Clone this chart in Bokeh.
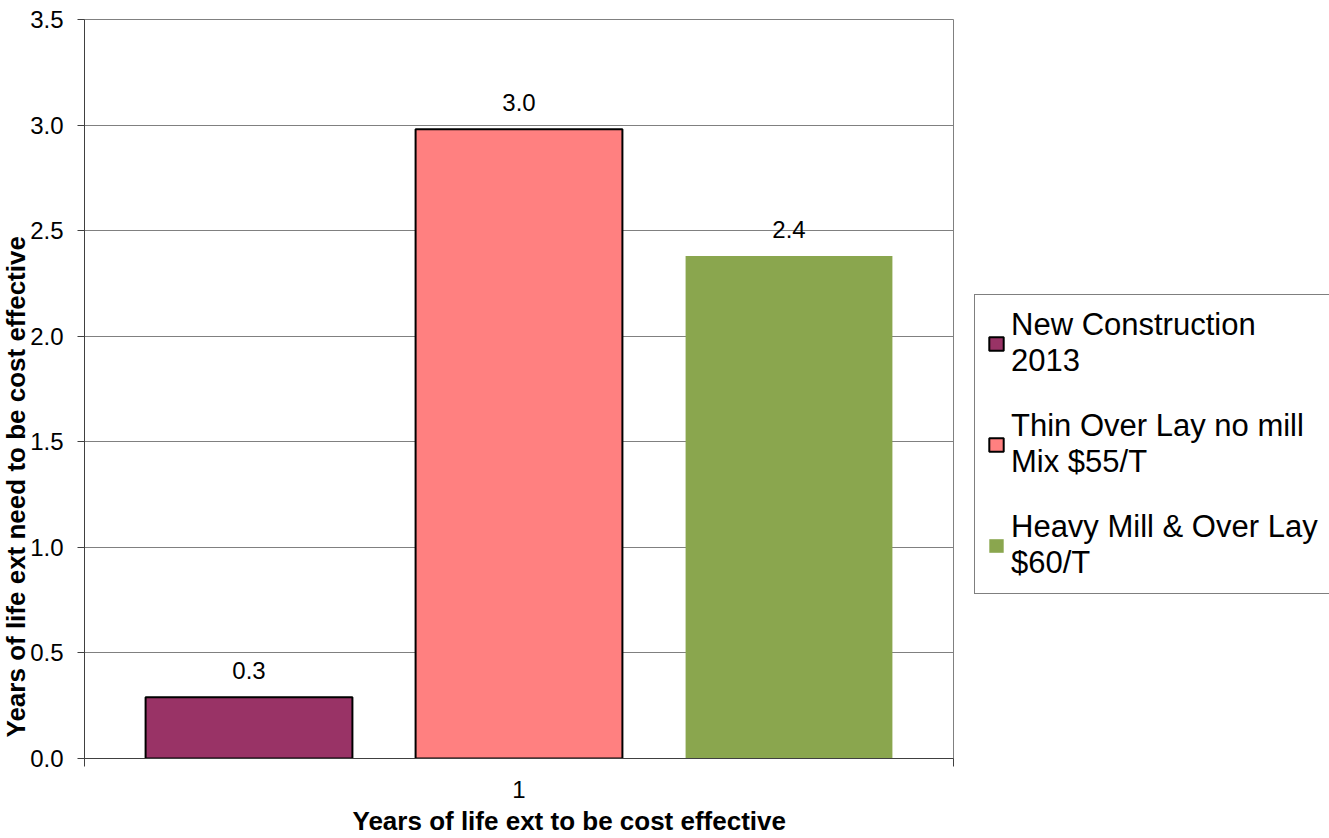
from bokeh.plotting import figure
from bokeh.layouts import row
from bokeh.models import (Range1d, FixedTicker, Legend, LegendItem, ColumnDataSource,
                          LabelSet, Title)
from bokeh.core.properties import value
from bokeh.embed import file_html
from bokeh.resources import INLINE

series = ["New Construction\n2013", "Thin Over Lay no mill\nMix $55/T", "Heavy Mill & Over Lay\n$60/T"]
values = [0.29, 2.98, 2.38]
colors = ["#993366", "#FF8080", "#8AA64E"]
outlines = ["black", "black", None]
category = ["1"]
y_ticks = [0.0, 0.5, 1.0, 1.5, 2.0, 2.5, 3.0, 3.5]
x_title = "Years of life ext to be cost effective"
y_title = "Years of life ext need to be cost effective"

FONT = "Liberation Sans"

p = figure(width=955, height=838, output_backend="svg", toolbar_location=None,
           x_range=Range1d(0.5, 1.5), y_range=Range1d(0, 3.5),
           min_border_left=84, min_border_top=19, min_border_bottom=80, min_border_right=2)
p.background_fill_color = "white"
p.border_fill_color = "white"
p.outline_line_color = "#808080"

step = 0.3107
bar_w = 0.238
for i, (s, v, c, o) in enumerate(zip(series, values, colors, outlines)):
    xc = 1 + (i - (len(series) - 1) / 2) * step
    src = ColumnDataSource(dict(x=[xc], top=[v], lab=[f"{v:.1f}"]))
    p.vbar(x="x", top="top", bottom=0, width=bar_w, source=src, fill_color=c,
           line_color=o if o else c, line_width=2 if o else 0, line_alpha=1 if o else 0)
    p.add_layout(LabelSet(x="x", y="top", text="lab", source=src, text_align="center",
                          text_baseline="bottom", y_offset=18, text_font=value(FONT),
                          text_font_size=value("24px"), text_color="black"))

# x axis
p.xaxis.ticker = FixedTicker(ticks=[1], minor_ticks=[0.5, 1.5])
p.xaxis.major_label_overrides = {1: category[0]}
p.xaxis.major_tick_out = 0
p.xaxis.major_tick_in = 0
p.xaxis.minor_tick_out = 8
p.xaxis.minor_tick_in = 0
p.xaxis.minor_tick_line_color = "#404040"
p.xaxis.axis_line_color = "#404040"
p.xaxis.major_label_text_font = FONT
p.xaxis.major_label_text_font_size = "24px"
p.xaxis.major_label_text_color = "black"
p.xaxis.major_label_standoff = 14

# y axis
p.yaxis.ticker = FixedTicker(ticks=y_ticks, minor_ticks=[])
p.yaxis.major_label_overrides = {t: f"{t:.1f}" for t in y_ticks}
p.yaxis.major_tick_out = 7
p.yaxis.major_tick_in = 0
p.yaxis.major_tick_line_color = "#404040"
p.yaxis.axis_line_color = "#404040"
p.yaxis.major_label_text_font = FONT
p.yaxis.major_label_text_font_size = "24px"
p.yaxis.major_label_text_color = "black"
p.yaxis.major_label_standoff = 14

p.xgrid.grid_line_color = None
p.ygrid.grid_line_color = "#808080"

# axis titles, off-centre like the original
p.add_layout(Title(text=x_title, align="left", offset=268, standoff=6,
                   text_font=FONT, text_font_style="bold", text_font_size="26px",
                   text_color="black"), "below")
p.add_layout(Title(text=y_title, align="left", offset=21, standoff=-6,
                   text_font=FONT, text_font_style="bold", text_font_size="26px",
                   text_color="black"), "left")

# legend panel (its frame lines up with the chart frame)
lg = figure(width=374, height=838, output_backend="svg", toolbar_location=None,
            x_range=Range1d(0, 1), y_range=Range1d(0, 1),
            x_axis_location=None, y_axis_location=None,
            min_border=0, outline_line_color=None)
lg.background_fill_color = "white"
lg.border_fill_color = "white"
lg.grid.visible = False
items = []
for s, c, o in zip(series, colors, outlines):
    # legend proxy glyphs, tucked underneath the opaque legend box
    r = lg.vbar(x=[0.5], top=[0.45], bottom=[0.4], width=0.1, fill_color=c,
                line_color=o if o else c, line_width=2 if o else 0, line_alpha=1 if o else 0)
    items.append(LegendItem(label=s, renderers=[r]))

legend = Legend(items=items, location=(19, 164))
legend.border_line_color = "black"
legend.border_line_width = 1
legend.background_fill_color = "white"
legend.background_fill_alpha = 1
legend.label_text_font = FONT
legend.label_text_font_size = "31px"
legend.label_text_color = "black"
legend.glyph_width = 18
legend.glyph_height = 17
legend.spacing = 29
legend.padding = 12
legend.margin = 0
legend.label_standoff = 6
lg.add_layout(legend)

layout = row(p, lg)
open("out.html", "w").write(file_html(layout, INLINE))
